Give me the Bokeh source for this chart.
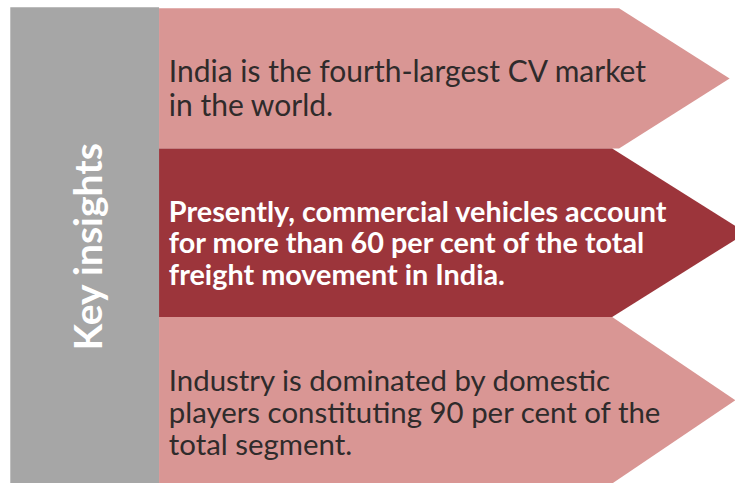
from bokeh.plotting import figure
from bokeh.models import Range1d, ColumnDataSource
from bokeh.core.properties import value
from bokeh.embed import file_html
from bokeh.resources import INLINE

# ---- content ----
side_label = "Key insights"
insights = [
    ["India is the fourth-largest CV market", "in the world."],
    ["Presently, commercial vehicles account", "for more than 60 per cent of the total", "freight movement in India."],
    ["Industry is dominated by domestic", "players constituting 90 per cent of the", "total segment."],
]
fill_colors = ["#D99694", "#9C353B", "#D99694"]
text_colors = ["#2F2B2B", "#FFFFFF", "#2F2B2B"]
text_styles = ["normal", "bold", "normal"]
text_sizes = ["30px", "28.8px", "29.4px"]

# ---- layout (pixel space of the reference picture, 751 x 499) ----
band_edges = [8, 153, 327, 499]
body_left = 162
notch_x = [632, 625, 625]
tip_x = [745, 762, 751]
first_baseline = [72, 217, 392]
line_step = [35, 33, 33]
text_left = 172

W, H = 735, 483
p = figure(width=W, height=H, output_backend="svg", toolbar_location=None,
           x_range=Range1d(0, 751), y_range=Range1d(499, 0),
           min_border=0, outline_line_color=None, background_fill_color="white",
           border_fill_color="white")
p.axis.visible = False
p.grid.visible = False

# grey side panel
p.quad(left=[10], right=[body_left], top=[7], bottom=[499], fill_color="#A6A6A6", line_color=None)

xs, ys = [], []
for i in range(3):
    t, b = band_edges[i], band_edges[i + 1]
    m = (t + b) / 2
    xs.append([body_left, notch_x[i], tip_x[i], notch_x[i], body_left])
    ys.append([t, t, m, b, b])
p.patches(xs=xs, ys=ys, fill_color=fill_colors, line_color=None)

for i, lines in enumerate(insights):
    src = ColumnDataSource(dict(
        x=[text_left] * len(lines),
        y=[first_baseline[i] + k * line_step[i] for k in range(len(lines))],
        t=lines))
    p.text(x="x", y="y", text="t", source=src, text_font=value("Lato"),
           text_font_size=text_sizes[i], text_color=text_colors[i], text_font_style=text_styles[i],
           text_align="left", text_baseline="alphabetic")

p.text(x=[88], y=[254], text=[side_label], angle=1.5708, text_font=value("Lato"),
       text_font_size="39px", text_font_style="bold", text_color="white",
       text_align="center", text_baseline="middle")

open("out.html", "w").write(file_html(p, INLINE))
